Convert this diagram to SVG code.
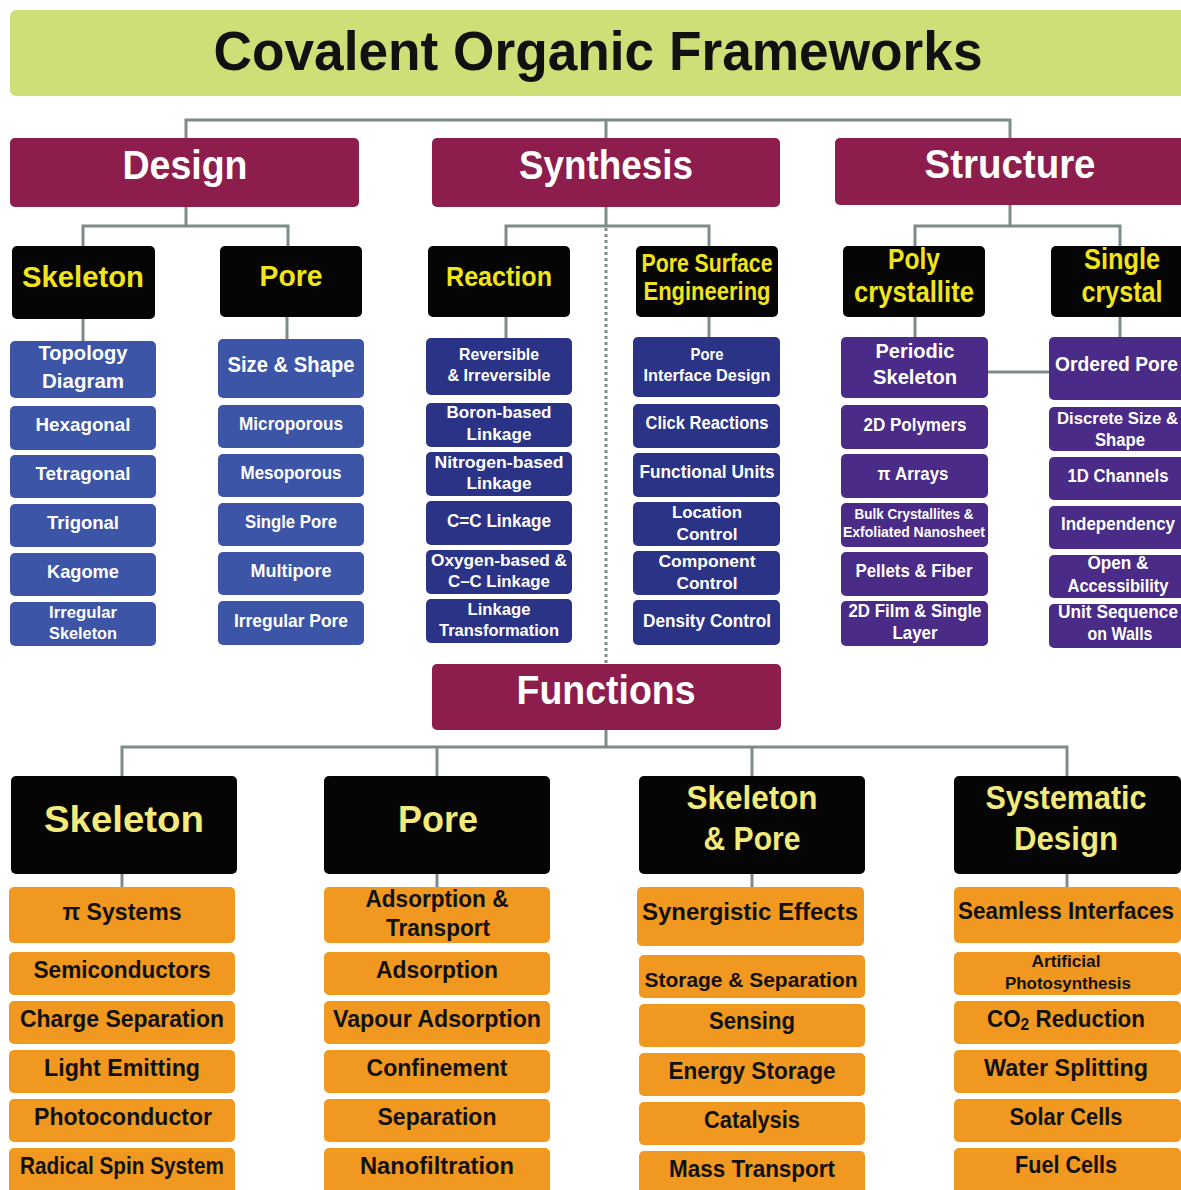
<svg xmlns="http://www.w3.org/2000/svg" width="1181" height="1190" viewBox="0 0 1181 1190">
<style>
.conn{stroke:#7f8b8b;stroke-width:3;fill:none}
.dot{stroke:#7f8b8b;stroke-width:3;stroke-dasharray:3 3;fill:none}
.t{font-family:"Liberation Sans",Arial,sans-serif;font-weight:bold;text-anchor:middle}
.s{text-anchor:start}
.title{fill:#cfdf78}
.mar{fill:#8c1d4c}
.blk{fill:#050505}
.blue{fill:#3c55a7}
.navy{fill:#2b3387}
.purp{fill:#4a2c88}
.org{fill:#f0981f}
.wt{fill:#ffffff}
.yl{fill:#f2e41a}
.py{fill:#f2ea7a}
.bk{fill:#111111}
</style>
<rect width="1181" height="1190" fill="#ffffff"/>
<g id="connectors">
<path class="conn" d="M186,138 V120 H1010 V138 M606,120 V138"/>
<path class="conn" d="M186,207 V226 M83,247 V226 H288 V247"/>
<path class="conn" d="M606,207 V226 M506,247 V226 H709 V247"/>
<path class="conn" d="M1010,205 V226 M915,247 V226 H1120 V247"/>
<path class="conn" d="M83,319 V341 M287,317 V339 M506,317 V338 M709,317 V337 M915,317 V337 M1120,317 V337"/>
<path class="conn" d="M988,372 H1049"/>
<path class="dot" d="M606,228 V664"/>
<path class="conn" d="M606,730 V747 M122,776 V747 H1067 V776 M437,747 V776 M752,747 V776"/>
<path class="conn" d="M122,874 V887 M437,874 V887 M752,874 V887 M1067,874 V887"/>
</g>
<g id="title"><rect class="title" x="10" y="10" width="1190" height="86" rx="6"/><text class="t bk" x="598" y="70" font-size="56" textLength="769" lengthAdjust="spacingAndGlyphs">Covalent Organic Frameworks</text></g>
<g id="design"><rect class="mar" x="10" y="138" width="349" height="69" rx="5"/><text class="t wt" x="185" y="179" font-size="40" textLength="125" lengthAdjust="spacingAndGlyphs">Design</text></g>
<g id="synthesis"><rect class="mar" x="432" y="138" width="348" height="69" rx="5"/><text class="t wt" x="606" y="179" font-size="40" textLength="174" lengthAdjust="spacingAndGlyphs">Synthesis</text></g>
<g id="structure"><rect class="mar" x="835" y="138" width="360" height="67" rx="5"/><text class="t wt" x="1010" y="178" font-size="40" textLength="171" lengthAdjust="spacingAndGlyphs">Structure</text></g>
<g id="functions"><rect class="mar" x="432" y="664" width="349" height="66" rx="5"/><text class="t wt" x="606" y="704" font-size="40" textLength="179" lengthAdjust="spacingAndGlyphs">Functions</text></g>

<g id="d-skeleton"><rect class="blk" x="12" y="246" width="143" height="73" rx="5"/><text class="t yl" x="83" y="287" font-size="30" textLength="122" lengthAdjust="spacingAndGlyphs">Skeleton</text></g>
<g id="d-pore"><rect class="blk" x="220" y="246" width="142" height="71" rx="5"/><text class="t yl" x="291" y="286" font-size="30" textLength="63" lengthAdjust="spacingAndGlyphs">Pore</text></g>
<g id="s-reaction"><rect class="blk" x="428" y="246" width="142" height="71" rx="5"/><text class="t yl" x="499" y="286" font-size="28" textLength="106" lengthAdjust="spacingAndGlyphs">Reaction</text></g>
<g id="s-pse"><rect class="blk" x="636" y="246" width="142" height="71" rx="5"/><text class="t yl" x="707" y="272" font-size="25" textLength="131" lengthAdjust="spacingAndGlyphs">Pore Surface</text><text class="t yl" x="707" y="300" font-size="25" textLength="127" lengthAdjust="spacingAndGlyphs">Engineering</text></g>
<g id="st-poly"><rect class="blk" x="843" y="246" width="142" height="71" rx="5"/><text class="t yl" x="914" y="269" font-size="30" textLength="52" lengthAdjust="spacingAndGlyphs">Poly</text><text class="t yl" x="914" y="302" font-size="30" textLength="120" lengthAdjust="spacingAndGlyphs">crystallite</text></g>
<g id="st-single"><rect class="blk" x="1051" y="246" width="142" height="71" rx="5"/><text class="t yl" x="1122" y="269" font-size="30" textLength="76" lengthAdjust="spacingAndGlyphs">Single</text><text class="t yl" x="1122" y="302" font-size="30" textLength="81" lengthAdjust="spacingAndGlyphs">crystal</text></g>

<g id="design-skeleton-list">
<g id="topology"><rect class="blue" x="10" y="341" width="146" height="57" rx="5"/><text class="t wt" x="83" y="360" font-size="20" textLength="89" lengthAdjust="spacingAndGlyphs">Topology</text><text class="t wt" x="83" y="388" font-size="20" textLength="82" lengthAdjust="spacingAndGlyphs">Diagram</text></g>
<g id="hexagonal"><rect class="blue" x="10" y="406" width="146" height="44" rx="5"/><text class="t wt" x="83" y="431" font-size="19" textLength="95" lengthAdjust="spacingAndGlyphs">Hexagonal</text></g>
<g id="tetragonal"><rect class="blue" x="10" y="455" width="146" height="43" rx="5"/><text class="t wt" x="83" y="480" font-size="19" textLength="95" lengthAdjust="spacingAndGlyphs">Tetragonal</text></g>
<g id="trigonal"><rect class="blue" x="10" y="504" width="146" height="43" rx="5"/><text class="t wt" x="83" y="529" font-size="19" textLength="72" lengthAdjust="spacingAndGlyphs">Trigonal</text></g>
<g id="kagome"><rect class="blue" x="10" y="553" width="146" height="43" rx="5"/><text class="t wt" x="83" y="578" font-size="19" textLength="72" lengthAdjust="spacingAndGlyphs">Kagome</text></g>
<g id="irregular-skeleton"><rect class="blue" x="10" y="602" width="146" height="44" rx="5"/><text class="t wt" x="83" y="618" font-size="17" textLength="68" lengthAdjust="spacingAndGlyphs">Irregular</text><text class="t wt" x="83" y="639" font-size="17" textLength="68" lengthAdjust="spacingAndGlyphs">Skeleton</text></g>
</g>
<g id="design-pore-list">
<g id="size-shape"><rect class="blue" x="218" y="339" width="146" height="59" rx="5"/><text class="t wt" x="291" y="372" font-size="22" textLength="127" lengthAdjust="spacingAndGlyphs">Size &amp; Shape</text></g>
<g id="microporous"><rect class="blue" x="218" y="405" width="146" height="43" rx="5"/><text class="t wt" x="291" y="430" font-size="19" textLength="104" lengthAdjust="spacingAndGlyphs">Microporous</text></g>
<g id="mesoporous"><rect class="blue" x="218" y="454" width="146" height="43" rx="5"/><text class="t wt" x="291" y="479" font-size="19" textLength="101" lengthAdjust="spacingAndGlyphs">Mesoporous</text></g>
<g id="single-pore"><rect class="blue" x="218" y="503" width="146" height="43" rx="5"/><text class="t wt" x="291" y="528" font-size="19" textLength="92" lengthAdjust="spacingAndGlyphs">Single Pore</text></g>
<g id="multipore"><rect class="blue" x="218" y="552" width="146" height="43" rx="5"/><text class="t wt" x="291" y="577" font-size="19" textLength="81" lengthAdjust="spacingAndGlyphs">Multipore</text></g>
<g id="irregular-pore"><rect class="blue" x="218" y="601" width="146" height="44" rx="5"/><text class="t wt" x="291" y="627" font-size="19" textLength="114" lengthAdjust="spacingAndGlyphs">Irregular Pore</text></g>
</g>
<g id="reaction-list">
<g id="reversible"><rect class="navy" x="426" y="338" width="146" height="57" rx="5"/><text class="t wt" x="499" y="360" font-size="17" textLength="80" lengthAdjust="spacingAndGlyphs">Reversible</text><text class="t wt" x="499" y="381" font-size="17" textLength="103" lengthAdjust="spacingAndGlyphs">&amp; Irreversible</text></g>
<g id="boron"><rect class="navy" x="426" y="403" width="146" height="44" rx="5"/><text class="t wt" x="499" y="418" font-size="17" textLength="105" lengthAdjust="spacingAndGlyphs">Boron-based</text><text class="t wt" x="499" y="440" font-size="17" textLength="65" lengthAdjust="spacingAndGlyphs">Linkage</text></g>
<g id="nitrogen"><rect class="navy" x="426" y="452" width="146" height="44" rx="5"/><text class="t wt" x="499" y="468" font-size="17" textLength="129" lengthAdjust="spacingAndGlyphs">Nitrogen-based</text><text class="t wt" x="499" y="489" font-size="17" textLength="65" lengthAdjust="spacingAndGlyphs">Linkage</text></g>
<g id="cc-double"><rect class="navy" x="426" y="501" width="146" height="44" rx="5"/><text class="t wt" x="499" y="527" font-size="18" textLength="104" lengthAdjust="spacingAndGlyphs">C=C Linkage</text></g>
<g id="oxygen"><rect class="navy" x="426" y="550" width="146" height="44" rx="5"/><text class="t wt" x="499" y="566" font-size="17" textLength="136" lengthAdjust="spacingAndGlyphs">Oxygen-based &amp;</text><text class="t wt" x="499" y="587" font-size="17" textLength="102" lengthAdjust="spacingAndGlyphs">C–C Linkage</text></g>
<g id="transformation"><rect class="navy" x="426" y="599" width="146" height="44" rx="5"/><text class="t wt" x="499" y="615" font-size="17" textLength="63" lengthAdjust="spacingAndGlyphs">Linkage</text><text class="t wt" x="499" y="636" font-size="17" textLength="120" lengthAdjust="spacingAndGlyphs">Transformation</text></g>
</g>
<g id="pse-list">
<g id="pore-interface"><rect class="navy" x="633" y="337" width="147" height="60" rx="5"/><text class="t wt" x="707" y="360" font-size="17" textLength="33" lengthAdjust="spacingAndGlyphs">Pore</text><text class="t wt" x="707" y="381" font-size="17" textLength="127" lengthAdjust="spacingAndGlyphs">Interface Design</text></g>
<g id="click"><rect class="navy" x="633" y="404" width="147" height="44" rx="5"/><text class="t wt" x="707" y="429" font-size="18" textLength="123" lengthAdjust="spacingAndGlyphs">Click Reactions</text></g>
<g id="functional-units"><rect class="navy" x="633" y="453" width="147" height="44" rx="5"/><text class="t wt" x="707" y="478" font-size="18" textLength="135" lengthAdjust="spacingAndGlyphs">Functional Units</text></g>
<g id="location"><rect class="navy" x="633" y="502" width="147" height="44" rx="5"/><text class="t wt" x="707" y="518" font-size="17" textLength="70" lengthAdjust="spacingAndGlyphs">Location</text><text class="t wt" x="707" y="540" font-size="17" textLength="61" lengthAdjust="spacingAndGlyphs">Control</text></g>
<g id="component"><rect class="navy" x="633" y="551" width="147" height="44" rx="5"/><text class="t wt" x="707" y="567" font-size="17" textLength="97" lengthAdjust="spacingAndGlyphs">Component</text><text class="t wt" x="707" y="589" font-size="17" textLength="61" lengthAdjust="spacingAndGlyphs">Control</text></g>
<g id="density"><rect class="navy" x="633" y="600" width="147" height="45" rx="5"/><text class="t wt" x="707" y="627" font-size="18" textLength="128" lengthAdjust="spacingAndGlyphs">Density Control</text></g>
</g>
<g id="poly-list">
<g id="periodic"><rect class="purp" x="841" y="337" width="147" height="61" rx="5"/><text class="t wt" x="915" y="358" font-size="20" textLength="79" lengthAdjust="spacingAndGlyphs">Periodic</text><text class="t wt" x="915" y="384" font-size="20" textLength="84" lengthAdjust="spacingAndGlyphs">Skeleton</text></g>
<g id="polymers"><rect class="purp" x="841" y="405" width="147" height="44" rx="5"/><text class="t wt" x="915" y="431" font-size="19" textLength="103" lengthAdjust="spacingAndGlyphs">2D Polymers</text></g>
<g id="pi-arrays"><rect class="purp" x="841" y="454" width="147" height="44" rx="5"/><text class="t wt" x="913" y="480" font-size="19" textLength="71" lengthAdjust="spacingAndGlyphs">π Arrays</text></g>
<g id="bulk"><rect class="purp" x="841" y="503" width="147" height="44" rx="5"/><text class="t wt" x="914" y="519" font-size="14" textLength="119" lengthAdjust="spacingAndGlyphs">Bulk Crystallites &amp;</text><text class="t wt" x="914" y="537" font-size="14" textLength="142" lengthAdjust="spacingAndGlyphs">Exfoliated Nanosheet</text></g>
<g id="pellets"><rect class="purp" x="841" y="552" width="147" height="44" rx="5"/><text class="t wt" x="914" y="577" font-size="19" textLength="117" lengthAdjust="spacingAndGlyphs">Pellets &amp; Fiber</text></g>
<g id="film"><rect class="purp" x="841" y="601" width="147" height="45" rx="5"/><text class="t wt" x="915" y="617" font-size="19" textLength="133" lengthAdjust="spacingAndGlyphs">2D Film &amp; Single</text><text class="t wt" x="915" y="639" font-size="19" textLength="45" lengthAdjust="spacingAndGlyphs">Layer</text></g>
</g>
<g id="single-list">
<g id="ordered-pore"><rect class="purp" x="1049" y="337" width="150" height="63" rx="5"/><text class="t s wt" x="1055" y="371" font-size="19.5" textLength="123" lengthAdjust="spacingAndGlyphs">Ordered Pore</text></g>
<g id="discrete"><rect class="purp" x="1049" y="407" width="150" height="44" rx="5"/><text class="t s wt" x="1057" y="424" font-size="17" textLength="121" lengthAdjust="spacingAndGlyphs">Discrete Size &amp;</text><text class="t wt" x="1120" y="446" font-size="19" textLength="50" lengthAdjust="spacingAndGlyphs">Shape</text></g>
<g id="channels"><rect class="purp" x="1049" y="457" width="150" height="43" rx="5"/><text class="t wt" x="1118" y="482" font-size="18" textLength="101" lengthAdjust="spacingAndGlyphs">1D Channels</text></g>
<g id="independency"><rect class="purp" x="1049" y="506" width="150" height="43" rx="5"/><text class="t wt" x="1118" y="530" font-size="18" textLength="114" lengthAdjust="spacingAndGlyphs">Independency</text></g>
<g id="open"><rect class="purp" x="1049" y="555" width="150" height="43" rx="5"/><text class="t wt" x="1118" y="569" font-size="19" textLength="61" lengthAdjust="spacingAndGlyphs">Open &amp;</text><text class="t wt" x="1118" y="592" font-size="18" textLength="101" lengthAdjust="spacingAndGlyphs">Accessibility</text></g>
<g id="unit-sequence"><rect class="purp" x="1049" y="604" width="150" height="44" rx="5"/><text class="t s wt" x="1058" y="618" font-size="17.5" textLength="120" lengthAdjust="spacingAndGlyphs">Unit Sequence</text><text class="t wt" x="1120" y="640" font-size="19" textLength="65" lengthAdjust="spacingAndGlyphs">on Walls</text></g>
</g>

<g id="f-skeleton"><rect class="blk" x="11" y="776" width="226" height="98" rx="5"/><text class="t py" x="124" y="832" font-size="36" textLength="160" lengthAdjust="spacingAndGlyphs">Skeleton</text></g>
<g id="f-pore"><rect class="blk" x="324" y="776" width="226" height="98" rx="5"/><text class="t py" x="438" y="832" font-size="36" textLength="80" lengthAdjust="spacingAndGlyphs">Pore</text></g>
<g id="f-skeleton-pore"><rect class="blk" x="639" y="776" width="226" height="98" rx="5"/><text class="t py" x="752" y="809" font-size="34" textLength="131" lengthAdjust="spacingAndGlyphs">Skeleton</text><text class="t py" x="752" y="850" font-size="34" textLength="97" lengthAdjust="spacingAndGlyphs">&amp; Pore</text></g>
<g id="f-systematic"><rect class="blk" x="954" y="776" width="227" height="98" rx="5"/><text class="t py" x="1066" y="809" font-size="34" textLength="161" lengthAdjust="spacingAndGlyphs">Systematic</text><text class="t py" x="1066" y="850" font-size="34" textLength="104" lengthAdjust="spacingAndGlyphs">Design</text></g>

<g id="f-skeleton-list">
<g id="pi-systems"><rect class="org" x="9" y="887" width="226" height="56" rx="5"/><text class="t bk" x="122" y="920" font-size="23" textLength="119" lengthAdjust="spacingAndGlyphs">π Systems</text></g>
<g id="semiconductors"><rect class="org" x="9" y="952" width="226" height="43" rx="5"/><text class="t bk" x="122" y="978" font-size="23" textLength="177" lengthAdjust="spacingAndGlyphs">Semiconductors</text></g>
<g id="charge-separation"><rect class="org" x="9" y="1001" width="226" height="43" rx="5"/><text class="t bk" x="122" y="1027" font-size="23" textLength="204" lengthAdjust="spacingAndGlyphs">Charge Separation</text></g>
<g id="light-emitting"><rect class="org" x="9" y="1050" width="226" height="43" rx="5"/><text class="t bk" x="122" y="1076" font-size="23" textLength="156" lengthAdjust="spacingAndGlyphs">Light Emitting</text></g>
<g id="photoconductor"><rect class="org" x="9" y="1099" width="226" height="43" rx="5"/><text class="t bk" x="123" y="1125" font-size="23" textLength="178" lengthAdjust="spacingAndGlyphs">Photoconductor</text></g>
<g id="radical"><rect class="org" x="9" y="1148" width="226" height="60" rx="5"/><text class="t bk" x="122" y="1174" font-size="23" textLength="204" lengthAdjust="spacingAndGlyphs">Radical Spin System</text></g>
</g>
<g id="f-pore-list">
<g id="adsorption-transport"><rect class="org" x="324" y="887" width="226" height="56" rx="5"/><text class="t bk" x="437" y="907" font-size="23" textLength="143" lengthAdjust="spacingAndGlyphs">Adsorption &amp;</text><text class="t bk" x="438" y="936" font-size="23" textLength="104" lengthAdjust="spacingAndGlyphs">Transport</text></g>
<g id="adsorption"><rect class="org" x="324" y="952" width="226" height="43" rx="5"/><text class="t bk" x="437" y="978" font-size="23" textLength="122" lengthAdjust="spacingAndGlyphs">Adsorption</text></g>
<g id="vapour"><rect class="org" x="324" y="1001" width="226" height="43" rx="5"/><text class="t bk" x="437" y="1027" font-size="23" textLength="208" lengthAdjust="spacingAndGlyphs">Vapour Adsorption</text></g>
<g id="confinement"><rect class="org" x="324" y="1050" width="226" height="43" rx="5"/><text class="t bk" x="437" y="1076" font-size="23" textLength="141" lengthAdjust="spacingAndGlyphs">Confinement</text></g>
<g id="separation"><rect class="org" x="324" y="1099" width="226" height="43" rx="5"/><text class="t bk" x="437" y="1125" font-size="23" textLength="119" lengthAdjust="spacingAndGlyphs">Separation</text></g>
<g id="nanofiltration"><rect class="org" x="324" y="1148" width="226" height="60" rx="5"/><text class="t bk" x="437" y="1174" font-size="23" textLength="154" lengthAdjust="spacingAndGlyphs">Nanofiltration</text></g>
</g>
<g id="f-skeleton-pore-list">
<g id="synergistic"><rect class="org" x="637" y="887" width="227" height="59" rx="5"/><text class="t bk" x="750" y="920" font-size="23" textLength="216" lengthAdjust="spacingAndGlyphs">Synergistic Effects</text></g>
<g id="storage-separation"><rect class="org" x="639" y="955" width="226" height="43" rx="5"/><text class="t bk" x="751" y="987" font-size="21" textLength="213" lengthAdjust="spacingAndGlyphs">Storage &amp; Separation</text></g>
<g id="sensing"><rect class="org" x="639" y="1004" width="226" height="43" rx="5"/><text class="t bk" x="752" y="1029" font-size="23" textLength="86" lengthAdjust="spacingAndGlyphs">Sensing</text></g>
<g id="energy-storage"><rect class="org" x="639" y="1053" width="226" height="43" rx="5"/><text class="t bk" x="752" y="1079" font-size="23" textLength="167" lengthAdjust="spacingAndGlyphs">Energy Storage</text></g>
<g id="catalysis"><rect class="org" x="639" y="1102" width="226" height="43" rx="5"/><text class="t bk" x="752" y="1128" font-size="23" textLength="96" lengthAdjust="spacingAndGlyphs">Catalysis</text></g>
<g id="mass-transport"><rect class="org" x="639" y="1151" width="226" height="60" rx="5"/><text class="t bk" x="752" y="1177" font-size="23" textLength="166" lengthAdjust="spacingAndGlyphs">Mass Transport</text></g>
</g>
<g id="f-systematic-list">
<g id="seamless"><rect class="org" x="954" y="887" width="227" height="56" rx="5"/><text class="t bk" x="1066" y="919" font-size="23" textLength="216" lengthAdjust="spacingAndGlyphs">Seamless Interfaces</text></g>
<g id="artificial"><rect class="org" x="954" y="952" width="227" height="43" rx="5"/><text class="t bk" x="1066" y="967" font-size="17" textLength="69" lengthAdjust="spacingAndGlyphs">Artificial</text><text class="t bk" x="1068" y="989" font-size="17" textLength="126" lengthAdjust="spacingAndGlyphs">Photosynthesis</text></g>
<g id="co2"><rect class="org" x="954" y="1001" width="227" height="43" rx="5"/><text class="t bk" x="1066" y="1027" font-size="23" textLength="158" lengthAdjust="spacingAndGlyphs">CO<tspan font-size="16" dy="3">2</tspan><tspan dy="-3"> Reduction</tspan></text></g>
<g id="water"><rect class="org" x="954" y="1050" width="227" height="43" rx="5"/><text class="t bk" x="1066" y="1076" font-size="23" textLength="164" lengthAdjust="spacingAndGlyphs">Water Splitting</text></g>
<g id="solar"><rect class="org" x="954" y="1099" width="227" height="43" rx="5"/><text class="t bk" x="1066" y="1125" font-size="23" textLength="113" lengthAdjust="spacingAndGlyphs">Solar Cells</text></g>
<g id="fuel"><rect class="org" x="954" y="1148" width="227" height="60" rx="5"/><text class="t bk" x="1066" y="1173" font-size="23" textLength="102" lengthAdjust="spacingAndGlyphs">Fuel Cells</text></g>
</g>
</svg>
